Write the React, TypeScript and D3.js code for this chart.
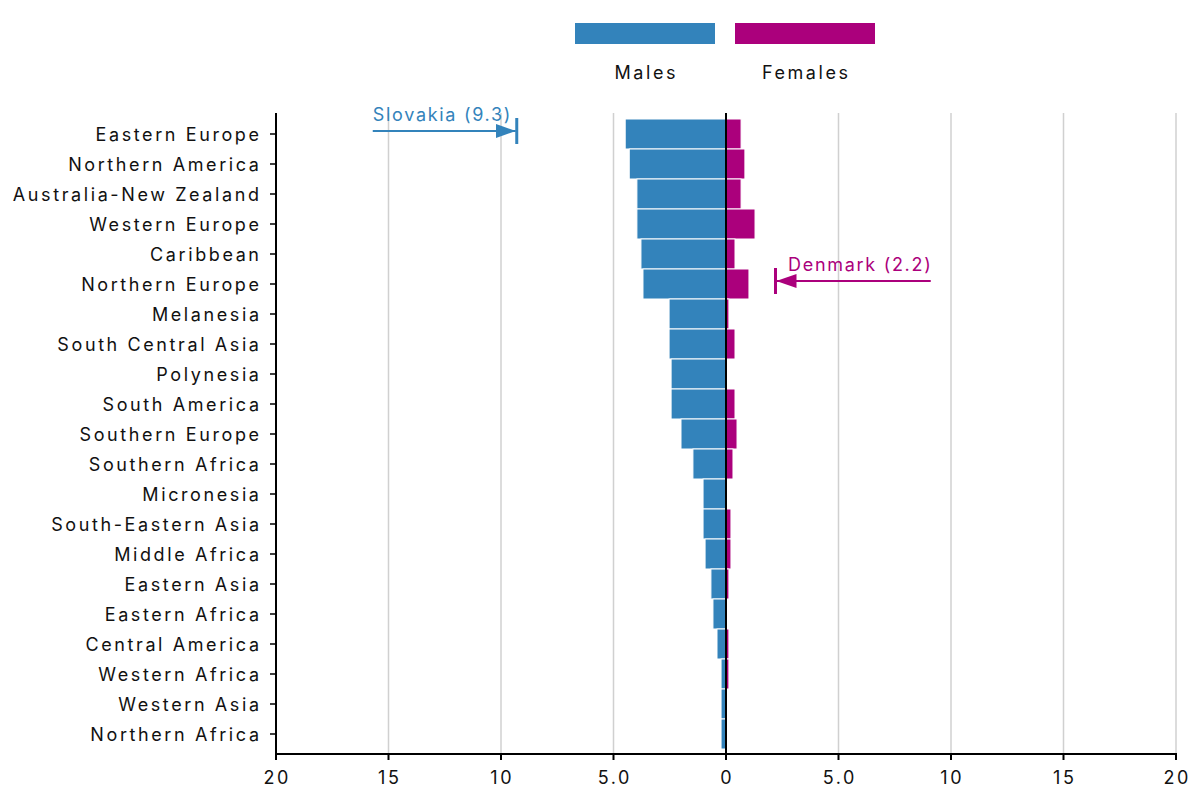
import React from "react";
import * as d3 from "d3";

const regions = [
  "Eastern Europe", "Northern America", "Australia-New Zealand", "Western Europe",
  "Caribbean", "Northern Europe", "Melanesia", "South Central Asia", "Polynesia",
  "South America", "Southern Europe", "Southern Africa", "Micronesia",
  "South-Eastern Asia", "Middle Africa", "Eastern Asia", "Eastern Africa",
  "Central America", "Western Africa", "Western Asia", "Northern Africa",
];
const males = [4.48, 4.3, 3.96, 3.96, 3.78, 3.69, 2.53, 2.53, 2.44, 2.44, 2.0, 1.47, 1.02, 1.02, 0.93, 0.67, 0.58, 0.4, 0.22, 0.22, 0.22];
const females = [0.67, 0.84, 0.67, 1.29, 0.4, 1.02, 0.13, 0.4, 0, 0.4, 0.49, 0.31, 0, 0.22, 0.22, 0.13, 0, 0.13, 0.13, 0, 0];
const tickValues = [-20, -15, -10, -5, 0, 5, 10, 15, 20];
const gridValues = [-15, -10, -5, 5, 10, 15, 20];
const annotations = [
  { label: "Slovakia (9.3)", value: -9.3, row: "Eastern Europe", end: -15.7 },
  { label: "Denmark (2.2)", value: 2.2, row: "Northern Europe", end: 9.1 },
];

const BLUE = "#3383bb";
const MAG = "#ab007c";
const FONT = "Inter, 'Noto Sans', sans-serif";
const LS = 2.6;
const ALS = 1.7;

export default function App() {
  const W = 1191, H = 790;
  const x = d3.scaleLinear().domain([-20, 20]).range([276, 1176]);
  const y = d3.scaleBand().domain(regions).range([119, 749]).padding(0);
  const top = 113, axisY = 754;
  const fmt = (v: number) => {
    const a = Math.abs(v);
    return a === 5 ? "5.0" : String(a);
  };
  return (
    <svg width={W} height={H} style={{ position: "absolute", left: 0, top: 0, fontFamily: FONT }}>
      <defs>
        <marker id="arrB" viewBox="0 0 10 10" refX="10" refY="5" markerWidth="20" markerHeight="14" preserveAspectRatio="none" markerUnits="userSpaceOnUse" orient="auto">
          <path d="M0,0 L10,5 L0,10 Z" fill={BLUE} />
        </marker>
        <marker id="arrM" viewBox="0 0 10 10" refX="10" refY="5" markerWidth="20" markerHeight="14" preserveAspectRatio="none" markerUnits="userSpaceOnUse" orient="auto">
          <path d="M0,0 L10,5 L0,10 Z" fill={MAG} />
        </marker>
      </defs>
      {/* legend */}
      <rect x={575} y={23} width={140} height={21} fill={BLUE} />
      <rect x={735} y={23} width={140} height={21} fill={MAG} />
      <text x={645 + LS / 2} y={79} textAnchor="middle" fontSize={18} letterSpacing={LS} fill="#111">Males</text>
      <text x={805 + LS / 2} y={79} textAnchor="middle" fontSize={18} letterSpacing={LS} fill="#111">Females</text>
      {/* grid */}
      {gridValues.map((v) => (
        <line key={v} x1={x(v)} x2={x(v)} y1={top} y2={axisY} stroke="#d0d0d0" strokeWidth={1.5} />
      ))}
      {/* bars */}
      {regions.map((r, i) => (
        <g key={r}>
          <rect x={x(-males[i])} y={y(r)} width={x(0) - x(-males[i])} height={y.bandwidth()} fill={BLUE} stroke="#fff" strokeWidth={1} />
          {females[i] > 0 && (
            <rect x={x(0)} y={y(r)} width={x(females[i]) - x(0)} height={y.bandwidth()} fill={MAG} stroke="#fff" strokeWidth={1} />
          )}
        </g>
      ))}
      {/* center line */}
      <line x1={x(0)} x2={x(0)} y1={top} y2={axisY} stroke="#000" strokeWidth={2} />
      {/* y axis */}
      <line x1={276} x2={276} y1={top} y2={axisY} stroke="#000" strokeWidth={2} />
      {regions.map((r) => (
        <g key={r}>
          <line x1={270} x2={276} y1={y(r)! + y.bandwidth() / 2} y2={y(r)! + y.bandwidth() / 2} stroke="#000" strokeWidth={1.5} />
          <text x={259 + LS} y={y(r)! + y.bandwidth() / 2 + 1} dy="0.35em" textAnchor="end" fontSize={18} letterSpacing={LS} fill="#111">{r}</text>
        </g>
      ))}
      {/* x axis */}
      <line x1={275} x2={1177} y1={axisY} y2={axisY} stroke="#000" strokeWidth={2} />
      {tickValues.map((v) => (
        <g key={v}>
          <line x1={x(v)} x2={x(v)} y1={axisY} y2={axisY + 6} stroke="#000" strokeWidth={2} />
          <text x={x(v) + LS / 2} y={784} textAnchor="middle" fontSize={18} letterSpacing={LS} fill="#111">{fmt(v)}</text>
        </g>
      ))}
      {/* annotations */}
      {annotations.map((a) => {
        const cy = y(a.row)! + y.bandwidth() / 2 - 3;
        const col = a.value < 0 ? BLUE : MAG;
        const xv = x(a.value);
        const xe = x(a.end);
        const left = a.value < 0;
        return (
          <g key={a.label}>
            <line x1={xv} x2={xv} y1={cy - 13} y2={cy + 13} stroke={col} strokeWidth={3} />
            <line x1={xe} x2={left ? xv - 1 : xv + 1} y1={cy} y2={cy} stroke={col} strokeWidth={2} markerEnd={`url(#${left ? "arrB" : "arrM"})`} />
            <text x={left ? xe : xe + ALS} y={cy - 10} textAnchor={left ? "start" : "end"} fontSize={18} letterSpacing={ALS} fill={col}>{a.label}</text>
          </g>
        );
      })}
    </svg>
  );
}
